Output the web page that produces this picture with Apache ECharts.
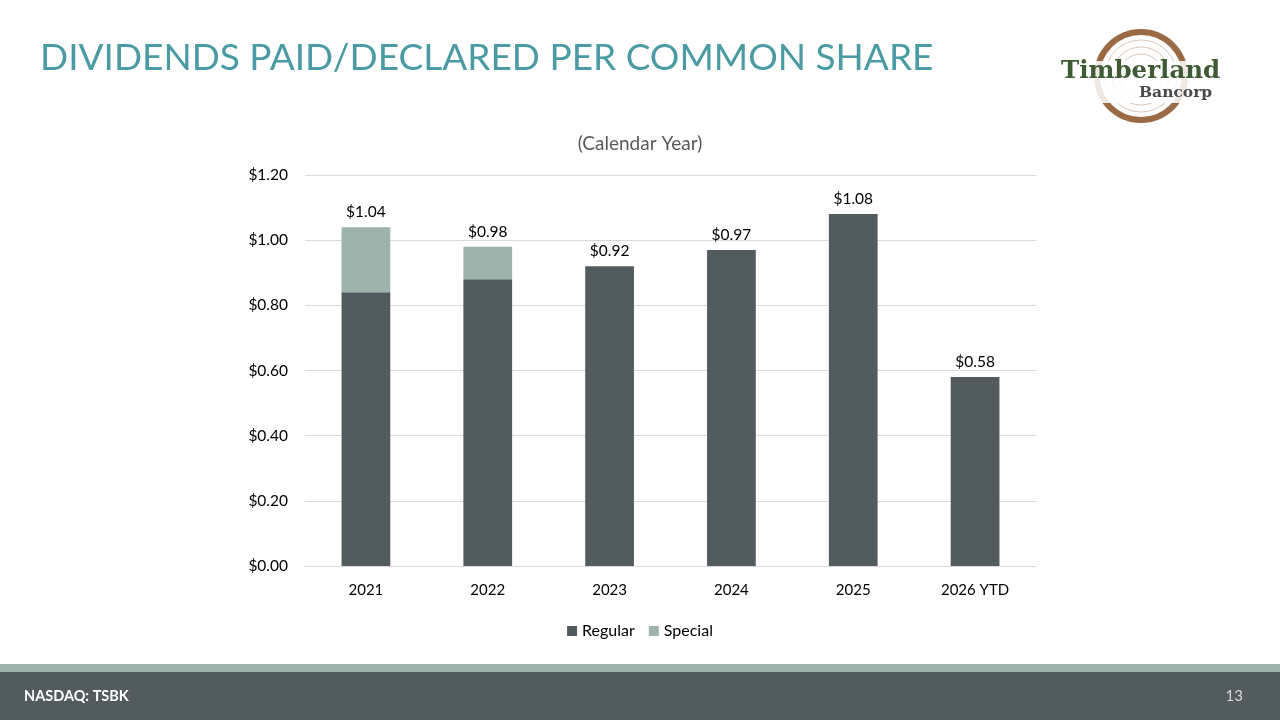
<!DOCTYPE html>
<html>
<head>
<meta charset="utf-8">
<script src="https://cdn.jsdelivr.net/npm/echarts@6/dist/echarts.min.js"></script>
<style>html,body{margin:0;padding:0;background:#fff}#c{width:1280px;height:720px}</style>
</head>
<body>
<div id="c"></div>
<script>
var categories = ['2021', '2022', '2023', '2024', '2025', '2026 YTD'];
var regular = [0.84, 0.88, 0.92, 0.97, 1.08, 0.58];
var special = [0.20, 0.10, 0, 0, 0, 0];
var yTicks = [0, 0.2, 0.4, 0.6, 0.8, 1.0, 1.2];
var totals = regular.map(function (v, i) { return +(v + special[i]).toFixed(2); });

var FONT = 'Lato, "Open Sans", sans-serif';
var chart = echarts.init(document.getElementById('c'));
chart.setOption({
  animation: false,
  backgroundColor: '#ffffff',
  title: {
    text: '(Calendar Year)', left: 'center', top: 129,
    textStyle: { fontFamily: FONT, fontSize: 19, fontWeight: 'normal', color: '#595959' }
  },
  grid: { left: 305, right: 244, top: 175, bottom: 154, containLabel: false },
  legend: {
    data: ['Regular', 'Special'], bottom: 76, left: 'center',
    icon: 'rect', itemWidth: 10, itemHeight: 10, itemGap: 14,
    textStyle: { fontFamily: FONT, fontSize: 16, color: '#000' }
  },
  xAxis: {
    type: 'category', data: categories,
    axisLine: { lineStyle: { color: '#D9D9D9' } },
    axisTick: { show: false },
    axisLabel: { fontFamily: FONT, fontSize: 15, color: '#000', margin: 17 }
  },
  yAxis: {
    type: 'value', min: yTicks[0], max: yTicks[yTicks.length - 1], interval: 0.2,
    axisLine: { show: false }, axisTick: { show: false },
    splitLine: { lineStyle: { color: '#D9D9D9' } },
    axisLabel: { fontFamily: FONT, fontSize: 15.5, color: '#000', margin: 17,
      formatter: function (v) { return '$' + v.toFixed(2); } }
  },
  series: [
    { name: 'Regular', type: 'bar', stack: 't', data: regular, barWidth: '40%',
      itemStyle: { color: '#525B5E' } },
    { name: 'Special', type: 'bar', stack: 't', data: special,
      itemStyle: { color: '#9DB3AC' } },
    { name: 'Total', type: 'bar', stack: 't', data: totals.map(function () { return 0; }),
      itemStyle: { color: 'transparent' },
      label: { show: true, position: 'top', distance: 7, fontFamily: FONT, fontSize: 15.5, color: '#000',
        formatter: function (p) { return '$' + totals[p.dataIndex].toFixed(2); } } }
  ],
  graphic: [
    { type: 'text', left: 40, top: 40, style: { text: 'DIVIDENDS PAID/DECLARED PER COMMON SHARE',
      fontFamily: FONT, fontSize: 37, fontWeight: 'normal', fill: '#4A9BA3' } },
    { type: 'rect', shape: { x: 0, y: 664, width: 1280, height: 8 }, style: { fill: '#9DB3AC' } },
    { type: 'rect', shape: { x: 0, y: 672, width: 1280, height: 48 }, style: { fill: '#525B5E' } },
    { type: 'text', left: 24, top: 689, style: { text: 'NASDAQ: TSBK', fontFamily: FONT, fontSize: 14.5, fontWeight: 'bold', fill: '#fff' } },
    { type: 'text', right: 37, top: 689, style: { text: '13', fontFamily: FONT, fontSize: 15, fill: '#D9D9D9' } },
    { type: 'circle', shape: { cx: 1141, cy: 76, r: 44 }, style: { fill: 'none', stroke: '#9A6A45', lineWidth: 6 } },
    { type: 'circle', shape: { cx: 1141, cy: 76, r: 36 }, style: { fill: 'none', stroke: '#D8C8BC', lineWidth: 1 } },
    { type: 'circle', shape: { cx: 1141, cy: 76, r: 29 }, style: { fill: 'none', stroke: '#D8C8BC', lineWidth: 1 } },
    { type: 'circle', shape: { cx: 1141, cy: 76, r: 22 }, style: { fill: 'none', stroke: '#D8C8BC', lineWidth: 1 } },
    { type: 'rect', shape: { x: 1058, y: 61, width: 166, height: 42 }, style: { fill: 'rgba(255,255,255,0.85)' } },
    { type: 'text', left: 1061, top: 59, style: { text: 'Timberland', fontFamily: '"DejaVu Serif", serif', fontSize: 24.5, fontWeight: 'bold', fill: '#3E5B36' } },
    { type: 'text', left: 1139, top: 85, style: { text: 'Bancorp', fontFamily: '"DejaVu Serif", serif', fontSize: 15.5, fontWeight: 'bold', fill: '#4A4A4A' } }
  ]
});
</script>
</body>
</html>
